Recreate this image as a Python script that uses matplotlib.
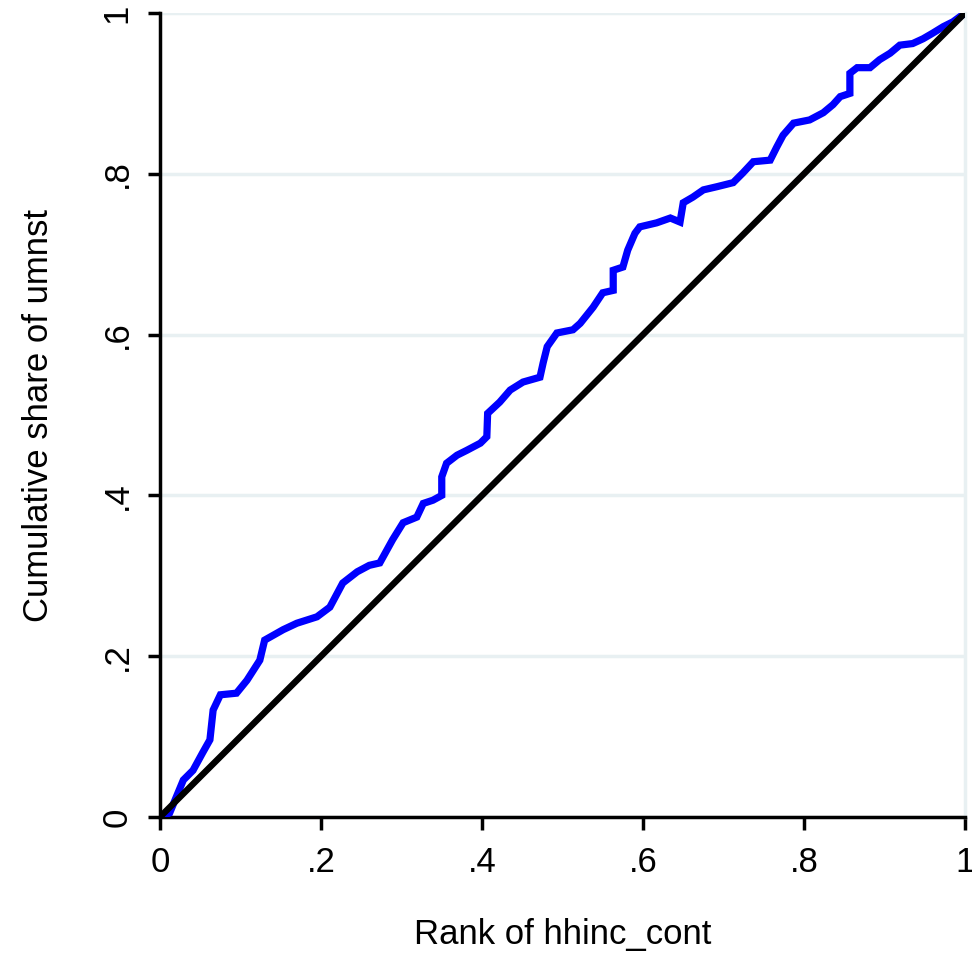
import matplotlib
matplotlib.use("Agg")
import matplotlib.pyplot as plt

plt.rcParams['font.family'] = ['Liberation Sans', 'DejaVu Sans']

# Concentration curve (rank of hhinc_cont vs cumulative share of umnst)
rank_x = [0.0, 0.012, 0.029, 0.041, 0.053, 0.062, 0.066, 0.075, 0.095, 0.108,
          0.124, 0.130, 0.153, 0.170, 0.195, 0.211, 0.227, 0.245, 0.260, 0.273,
          0.289, 0.302, 0.319, 0.327, 0.339, 0.350, 0.350, 0.356, 0.369, 0.381,
          0.398, 0.406, 0.407, 0.422, 0.435, 0.451, 0.472, 0.476, 0.481, 0.493,
          0.513, 0.522, 0.538, 0.550, 0.563, 0.563, 0.575, 0.581, 0.590, 0.596,
          0.617, 0.634, 0.646, 0.650, 0.662, 0.675, 0.692, 0.712, 0.724, 0.737,
          0.758, 0.766, 0.774, 0.787, 0.807, 0.824, 0.836, 0.845, 0.857, 0.857,
          0.866, 0.882, 0.894, 0.907, 0.919, 0.935, 0.948, 0.960, 0.973, 0.985,
          1.0]
cum_share = [0.0, 0.005, 0.046, 0.058, 0.080, 0.096, 0.133, 0.152, 0.154, 0.170,
             0.195, 0.220, 0.233, 0.241, 0.249, 0.261, 0.291, 0.305, 0.313, 0.316,
             0.345, 0.366, 0.373, 0.390, 0.394, 0.400, 0.423, 0.440, 0.450, 0.456,
             0.465, 0.473, 0.502, 0.516, 0.531, 0.541, 0.547, 0.565, 0.585, 0.602,
             0.606, 0.614, 0.634, 0.652, 0.655, 0.680, 0.684, 0.705, 0.726, 0.734,
             0.739, 0.745, 0.740, 0.764, 0.771, 0.780, 0.784, 0.789, 0.801, 0.815,
             0.817, 0.833, 0.848, 0.863, 0.867, 0.876, 0.886, 0.896, 0.900, 0.925,
             0.932, 0.932, 0.942, 0.950, 0.960, 0.962, 0.968, 0.975, 0.983, 0.989,
             1.0]
equality = [0.0, 1.0]

ticks = [0, 0.2, 0.4, 0.6, 0.8, 1.0]
tick_labels = ['0', '.2', '.4', '.6', '.8', '1']

fig = plt.figure(figsize=(9.72, 9.55), dpi=100)
ax = fig.add_axes([160/972, 138/955, 805/972, 804/955])

ax.plot(rank_x, cum_share, color='#0000ff', lw=5.2, solid_joinstyle='miter', zorder=3)
ax.plot(equality, equality, color='black', lw=4.6, zorder=4)

ax.set_xlim(0, 1)
ax.set_ylim(0, 1)
ax.set_xticks(ticks)
ax.set_xticklabels(tick_labels)
ax.set_yticks(ticks)
ax.set_yticklabels(tick_labels, rotation=90, va='center')

ax.grid(axis='y', color='#e8f0f2', lw=2.5, zorder=0)
ax.set_axisbelow(True)
for s in ['left', 'bottom']:
    ax.spines[s].set_linewidth(2.5)
    ax.spines[s].set_color('black')
ax.spines['top'].set_visible(False)
ax.spines['right'].set_color('#e8f0f2')
ax.spines['right'].set_linewidth(2.5)

ax.tick_params(axis='both', length=9, width=2.5, labelsize=25, colors='black')
ax.tick_params(axis='x', pad=12)
ax.tick_params(axis='y', pad=10)

ax.set_xlabel('Rank of hhinc_cont', fontsize=25, labelpad=28)
ax.set_ylabel('Cumulative share of umnst', fontsize=25, labelpad=33)

fig.savefig('out.png', dpi=100, facecolor='white')
